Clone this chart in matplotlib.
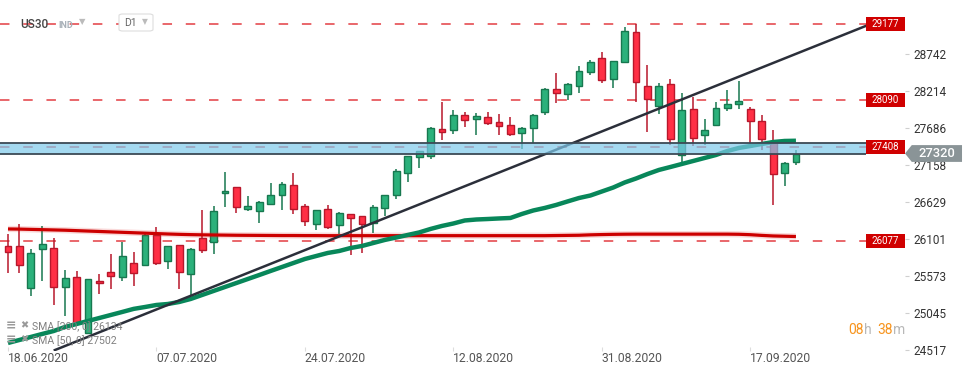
import matplotlib
matplotlib.use('Agg')
import matplotlib.pyplot as plt
from matplotlib.transforms import blended_transform_factory
from matplotlib.patches import Rectangle, Polygon, FancyBboxPatch

plt.rcParams['font.family'] = ['Roboto', 'DejaVu Sans']

# ---------------- data ----------------
opens = [26004, 25995, 25395, 25961, 25966, 25409, 25552, 24760, 25495, 25623,
         25552, 25752, 25723, 26152, 25785, 26009, 25594, 26109, 26056, 26751,
         26837, 26532, 26503, 26594, 26722, 26865, 26565, 26308, 26522, 26294,
         26451, 26422, 26322, 26537, 26722, 27037, 27266, 27289, 27670, 27661,
         27866, 27818, 27837, 27766, 27723, 27608, 27680, 27918, 28237, 28166,
         28280, 28480, 28680, 28380, 28623, 29051, 28280, 27994, 28309, 27294,
         27951, 27580, 27723, 27966, 28023, 27951, 27780, 27494, 27037, 27194]
highs = [26171, 26314, 25952, 26285, 26109, 25656, 25642, 25530, 25594, 25885,
         26061, 25909, 26190, 26266, 25995, 26009, 25966, 26514, 26571, 27051,
         26837, 26713, 26637, 26899, 26908, 27037, 26594, 26508, 26580, 26480,
         26451, 26422, 26580, 26722, 27094, 27290, 27360, 27704, 28061, 27942,
         27913, 27899, 27913, 27885, 27842, 27694, 27885, 28256, 28470, 28323,
         28570, 28650, 28770, 28637, 29128, 29170, 28585, 28323, 28380, 28180,
         28123, 27808, 28051, 28223, 28351, 27980, 27866, 27651, 27194, 27366]
lows = [25618, 25618, 25285, 25504, 25156, 25004, 24885, 24735, 25309, 25380,
        25504, 25433, 25723, 25733, 25666, 25390, 25285, 25904, 25880, 26560,
        26465, 26499, 26322, 26594, 26513, 26451, 26289, 26232, 26246, 26175,
        25875, 25903, 26189, 26432, 26665, 26918, 27108, 27242, 27513, 27599,
        27704, 27589, 27727, 27589, 27570, 27380, 27466, 27875, 28037, 28085,
        28180, 28437, 28323, 28251, 28623, 28051, 27632, 27880, 27437, 27180,
        27423, 27437, 27723, 27923, 27951, 27437, 27366, 26580, 26851, 27151]
closes = [25909, 25723, 25895, 26023, 25409, 25537, 24895, 25523, 25466, 25575,
          25852, 25609, 26152, 25752, 25995, 25623, 25952, 25937, 26495, 26780,
          26551, 26565, 26622, 26722, 26880, 26522, 26351, 26508, 26265, 26465,
          26394, 26308, 26551, 26722, 27065, 27280, 27351, 27680, 27632, 27866,
          27804, 27851, 27751, 27708, 27594, 27680, 27866, 28237, 28180, 28308,
          28494, 28623, 28366, 28637, 29066, 28337, 28094, 28280, 27523, 27937,
          27537, 27651, 27966, 28023, 28066, 27780, 27523, 27023, 27180, 27320]

sma50 = [24613, 24656, 24699, 24742, 24784, 24842, 24884, 24927, 24970, 25013,
         25056, 25100, 25127, 25156, 25170, 25199, 25242, 25299, 25356, 25413,
         25470, 25527, 25584, 25642, 25699, 25756, 25813, 25856, 25899, 25927,
         25970, 25999, 26042, 26085, 26120, 26156, 26192, 26242, 26285, 26320,
         26363, 26377, 26384, 26392, 26399, 26456, 26506, 26542, 26585, 26635,
         26684, 26720, 26777, 26834, 26906, 26963, 27027, 27085, 27127, 27170,
         27213, 27256, 27299, 27356, 27399, 27427, 27456, 27484, 27499, 27502]
sma200 = [26242, 26240, 26236, 26232, 26228, 26224, 26218, 26212, 26206, 26200,
          26194, 26188, 26182, 26176, 26170, 26165, 26161, 26158, 26156, 26154,
          26152, 26151, 26150, 26149, 26148, 26148, 26147, 26147, 26146, 26146,
          26146, 26146, 26146, 26146, 26146, 26146, 26146, 26146, 26146, 26146,
          26146, 26146, 26146, 26146, 26146, 26146, 26146, 26146, 26148, 26150,
          26152, 26158, 26162, 26165, 26167, 26168, 26168, 26168, 26168, 26168,
          26168, 26168, 26168, 26168, 26166, 26160, 26150, 26142, 26138, 26134]

trend_x = [4.0, 76.2]
trend_y = [24505, 29213]

levels = [29177, 28090, 27408, 26077]
zone_low, zone_high = 27310, 27466
last_price = 27320

ytick_vals = [24517, 25045, 25573, 26101, 26629, 27158, 27686, 28214, 28742]
date_idx = [0, 13, 26, 39, 52, 65]
date_labels = ['18.06.2020', '07.07.2020', '24.07.2020', '12.08.2020',
               '31.08.2020', '17.09.2020']

# ---------------- figure ----------------
W, H = 974, 375
fig = plt.figure(figsize=(W / 100, H / 100), dpi=100)
ax = fig.add_axes([0, 0.0643, 905 / W, 1 - 0.0643])
ax.set_xlim(-0.70, 78.55)
ax.set_ylim(24500, 29513)
for s in ax.spines.values():
    s.set_visible(False)

GREEN_F, GREEN_E = '#2bb17b', '#17784f'
RED_F, RED_E = '#ff2f45', '#b8172b'
LEVEL_RED = '#e0282e'

xs = list(range(len(opens)))
# horizontal levels (dashed)
for lv in levels:
    ax.axhline(lv, xmin=0, xmax=866 / 905, color=LEVEL_RED, lw=1.1,
               ls=(0, (6.2, 9.0)), alpha=0.9, zorder=1)

# candles
up = [c >= o for o, c in zip(opens, closes)]
ax.vlines(xs, lows, highs, colors=[GREEN_E if u else RED_E for u in up],
          lw=1.1, zorder=3)
bottoms = [min(o, c) for o, c in zip(opens, closes)]
heights = [max(abs(c - o), 8) for o, c in zip(opens, closes)]
ax.bar(xs, heights, bottom=bottoms, width=0.6,
       color=[GREEN_F if u else RED_F for u in up],
       edgecolor=[GREEN_E if u else RED_E for u in up], linewidth=1.0, zorder=4)

# moving averages
ax.plot(xs, sma200, color='#e03030', lw=4.5, alpha=0.18, zorder=5,
        solid_capstyle='butt')
ax.plot(xs, sma200, color='#cc0000', lw=2.3, zorder=5, solid_capstyle='butt')
ax.plot(xs, sma50, color='#08875a', lw=3.2, zorder=5, solid_capstyle='butt')

# trendline
ax.plot(trend_x, trend_y, color='#2b2f3a', lw=1.8, zorder=6,
        solid_capstyle='butt')

# zone band
bt = blended_transform_factory(ax.transAxes, ax.transData)
ax.add_patch(Rectangle((0, zone_low), 866 / 905, zone_high - zone_low,
                       transform=bt, facecolor='#7ec9eb', alpha=0.7,
                       edgecolor='none', zorder=7))
ax.hlines([zone_low, zone_high], 0, 866 / 905, transform=bt,
          colors='#3c4a55', lw=1.3, zorder=7)

# level boxes
for lv in levels:
    ax.add_patch(Rectangle((866 / 905, lv - 100), 39 / 905, 200, transform=bt,
                           facecolor='#d00000', edgecolor='none', zorder=9,
                           clip_on=False))
    ax.text(885.5 / 905, lv, f'{lv}', transform=bt, ha='center', va='center',
            color='white', fontsize=7, zorder=10)

# last price tag
hp = 120
ax.add_patch(Polygon([(1.0, last_price), (1.0075, last_price + hp),
                      (1.063, last_price + hp), (1.063, last_price - hp),
                      (1.0075, last_price - hp)], closed=True, transform=bt,
                     facecolor='#8a9497', edgecolor='none', clip_on=False,
                     zorder=10))
ax.text(1.035, last_price, f'{last_price}', transform=bt, ha='center',
        va='center', color='white', fontsize=9.3, fontweight='medium',
        zorder=11)

# axes ticks
ax.yaxis.tick_right()
ax.set_yticks(ytick_vals)
ax.set_yticklabels([str(v) for v in ytick_vals])
ax.tick_params(axis='y', length=3, color='#cfcfcf', pad=3, labelsize=8.5,
               labelcolor='#333333')
ax.set_xticks(date_idx)
ax.set_xticklabels(date_labels)
for lab in ax.get_xticklabels():
    lab.set_ha('left')
ax.tick_params(axis='x', direction='in', length=3, color='#dddddd', pad=0.5,
               labelsize=8.7, labelcolor='#555555')

# top-left header
def fx(px):
    return px / W

def fy(py):
    return 1 - py / H

fig.text(fx(20), fy(24), 'US30', fontsize=8.5, color='#444444',
         va='center', ha='left', fontweight='medium')
fig.text(fx(58), fy(25), 'IND', fontsize=6.5, color='#a8b0b8',
         va='center', ha='left', fontweight='bold')
fig.text(fx(79), fy(22), '▼', fontsize=6, color='#bbbbbb', va='center',
         ha='left', family=['DejaVu Sans'])
fig.patches.append(FancyBboxPatch((fx(119), fy(31)), fx(34), 17 / H,
                                  boxstyle='round,pad=0,rounding_size=0.004',
                                  transform=fig.transFigure,
                                  facecolor='white', edgecolor='#dddddd',
                                  lw=0.8))
fig.text(fx(124), fy(23), 'D1', fontsize=7.5, color='#666666', va='center',
         ha='left')
fig.text(fx(142), fy(22), '▼', fontsize=5.5, color='#bbbbbb', va='center',
         ha='left', family=['DejaVu Sans'])

# bottom-left legend
for row, (name, val) in enumerate([('SMA [200, 0]', sma200[-1]),
                                   ('SMA [50, 0]', sma50[-1])]):
    yy = 327 + row * 14
    fig.text(fx(6), fy(yy - 1), '≡', fontsize=9, color='#9a9a9a',
             va='center', ha='left', family=['DejaVu Sans'], fontweight='bold')
    fig.text(fx(20), fy(yy - 2), '✖', fontsize=7, color='#9a9a9a',
             va='center', ha='left', family=['DejaVu Sans'])
    fig.text(fx(32), fy(yy), f'{name} {val}', fontsize=7.6, color='#808080',
             va='center', ha='left')

# countdown
ORANGE = '#f7941d'
fig.text(fx(848), fy(330), '08', fontsize=10, color=ORANGE, va='center', ha='left')
fig.text(fx(864), fy(330), 'h', fontsize=10, color='#b8b8b8', va='center', ha='left')
fig.text(fx(877), fy(330), '38', fontsize=10, color=ORANGE, va='center', ha='left')
fig.text(fx(893), fy(330), 'm', fontsize=10, color='#b8b8b8', va='center', ha='left')

fig.savefig('out.png', dpi=100)
